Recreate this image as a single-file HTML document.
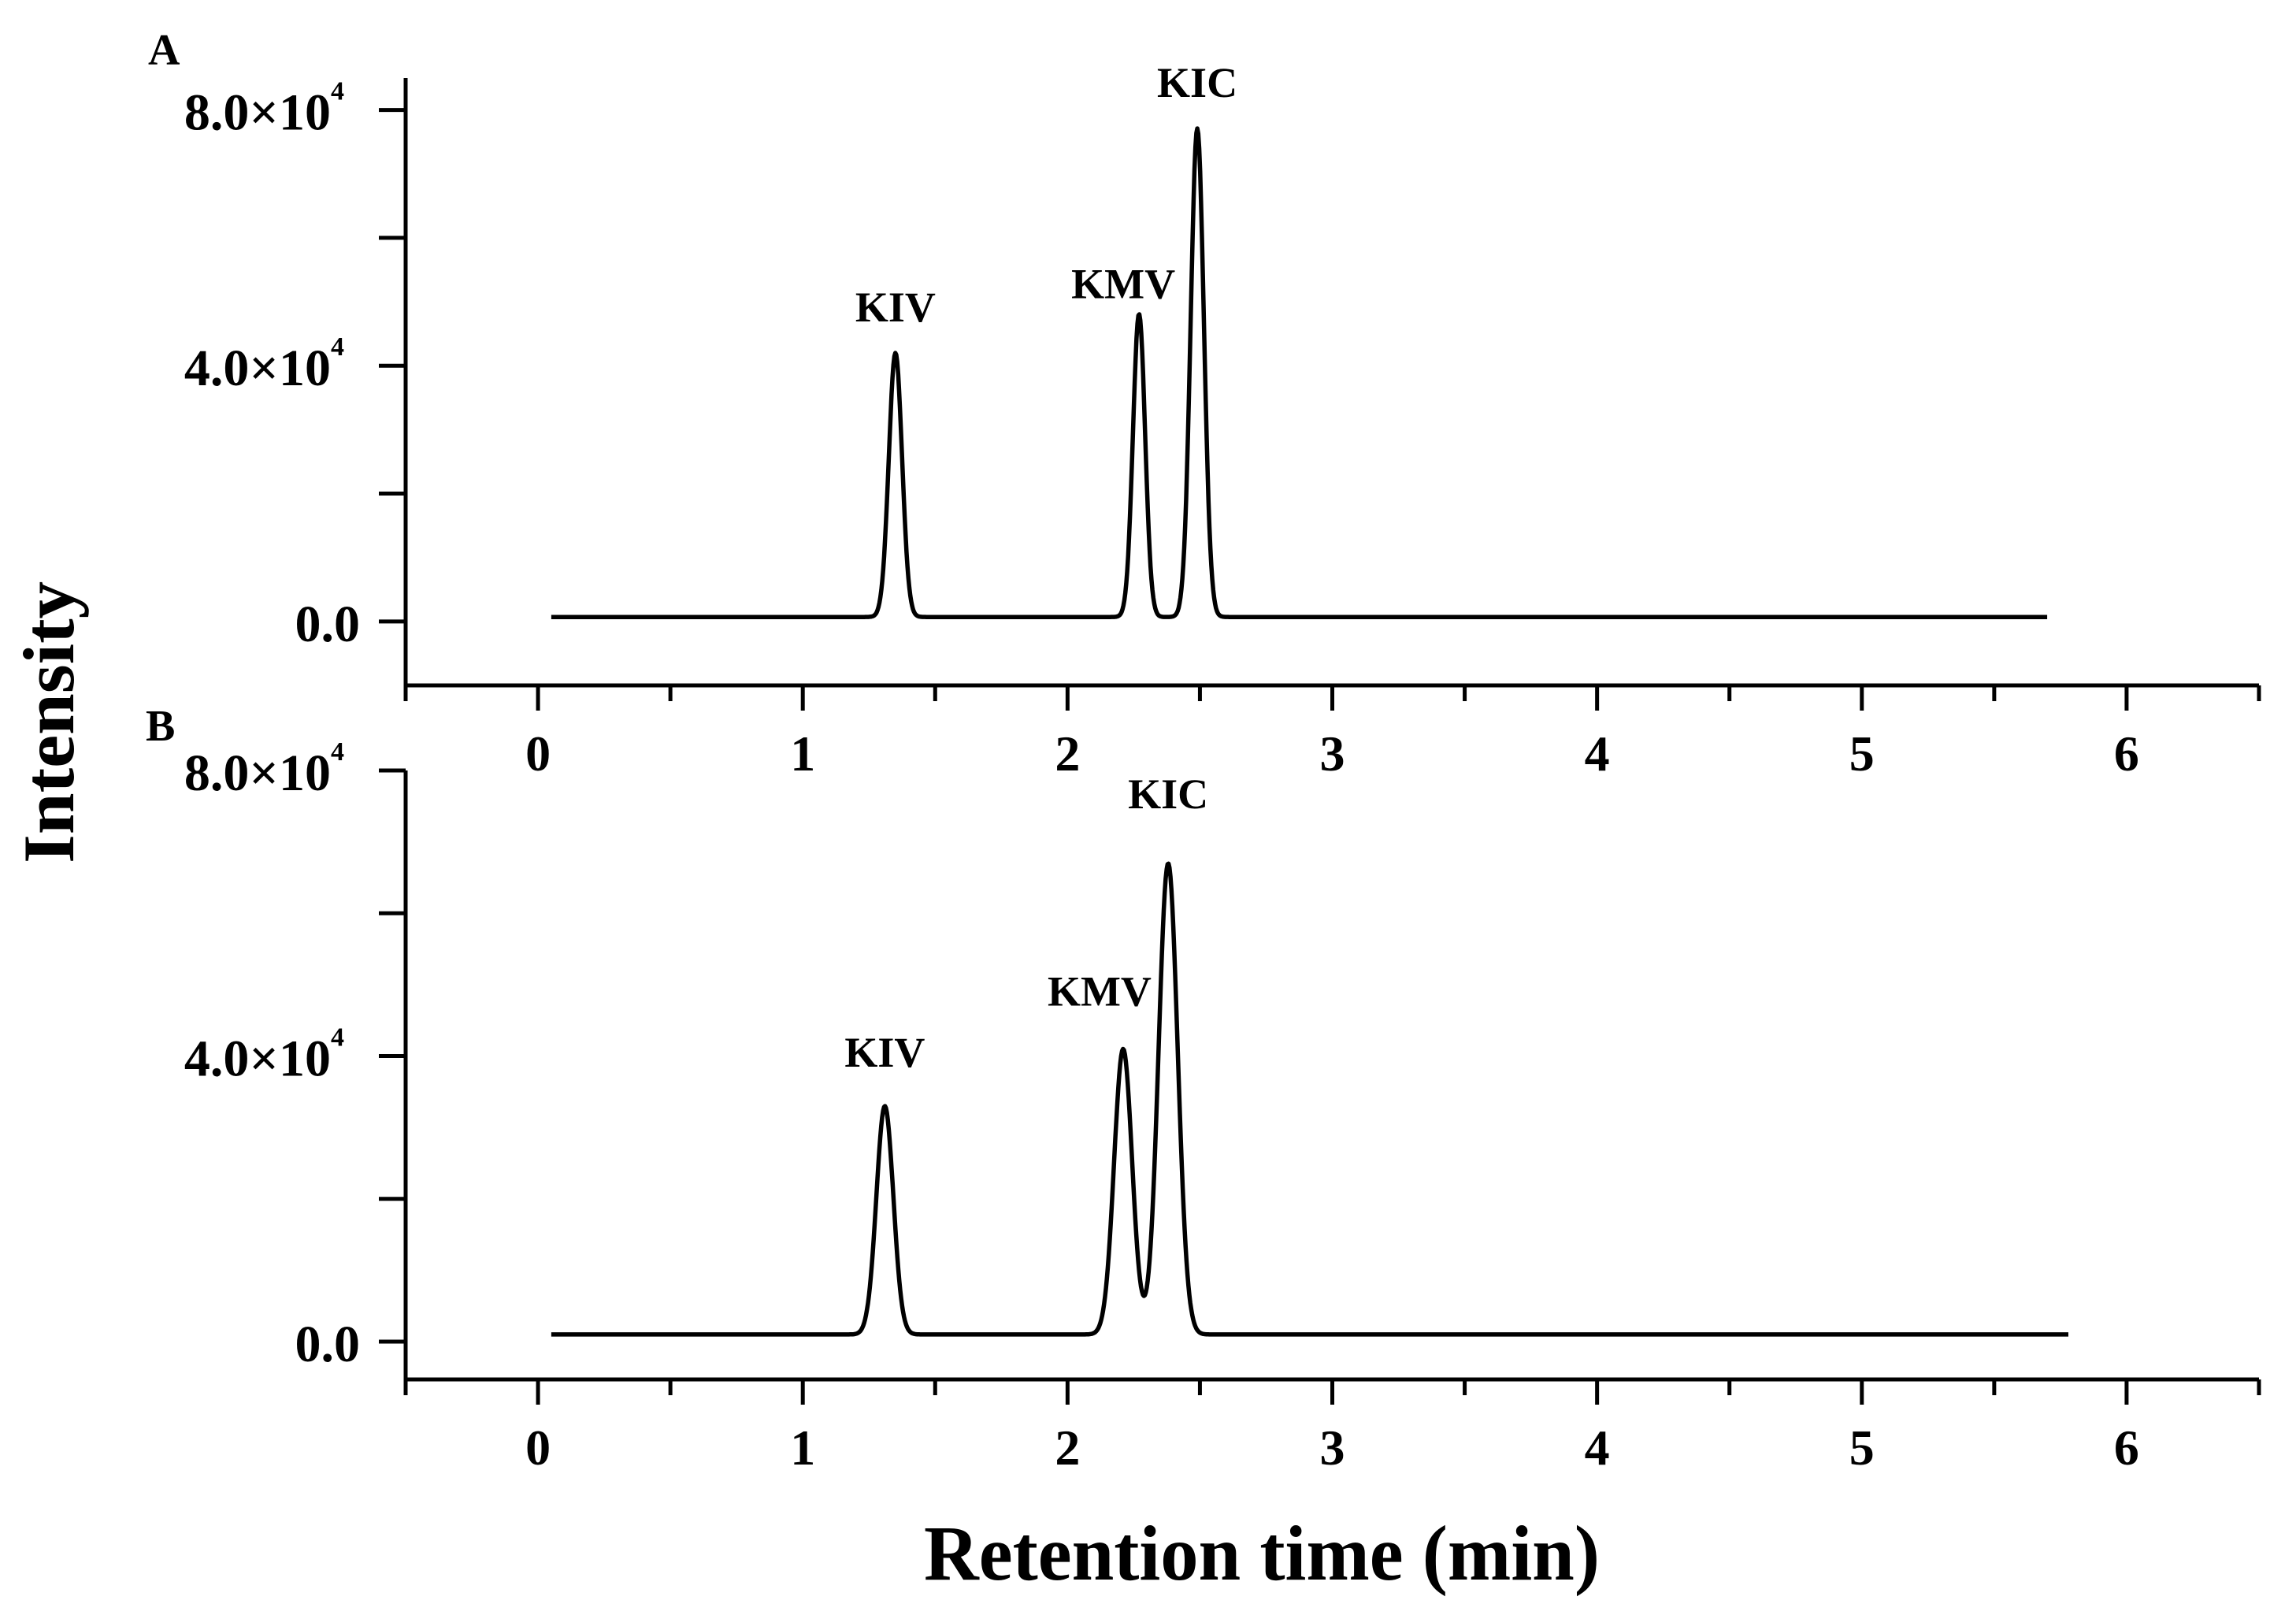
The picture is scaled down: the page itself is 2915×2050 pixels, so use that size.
<!DOCTYPE html>
<html><head><meta charset="utf-8"><style>
html,body{margin:0;padding:0;background:#fff}
svg{display:block}
text{font-family:"Liberation Serif",serif;font-weight:bold;fill:#000}
</style></head><body>
<svg id="chart" width="2915" height="2050" viewBox="0 0 2915 2050" xmlns="http://www.w3.org/2000/svg">
<text x="93" y="917" font-size="92" text-anchor="middle" transform="rotate(-90 93 917)" textLength="358" lengthAdjust="spacingAndGlyphs">Intensity</text>
<text x="1602" y="2005" font-size="100" text-anchor="middle" textLength="858" lengthAdjust="spacingAndGlyphs">Retention time (min)</text>
</svg>
<script>
const xTicks = [0, 1, 2, 3, 4, 5, 6];
const yTickValues = [0, 40000, 80000];
const yTickLabels = ["0.0", "4.0×10", "8.0×10"];
const peakLabels = ["KIV", "KMV", "KIC"];
const peakTimesA = [1.35, 2.27, 2.49];
const peakHeightsA = [41300, 47400, 76400];
const peakWidthsA = [0.025, 0.023, 0.025];
const baselineA = 700;
const runA = [0.05, 5.7];
const peakTimesB = [1.31, 2.21, 2.38];
const peakHeightsB = [32000, 40000, 66000];
const peakWidthsB = [0.032, 0.034, 0.036];
const baselineB = 1000;
const runB = [0.05, 5.78];

const svg = document.getElementById('chart');
const NS = 'http://www.w3.org/2000/svg';
function mk(tag, attrs, parent){const e=document.createElementNS(NS,tag);for(const k in attrs)e.setAttribute(k,attrs[k]);(parent||svg).appendChild(e);return e;}

function panel(cfg){
  const g = mk('g',{});
  
  
  const X = v => cfg.x0 + (v - cfg.xmin) / (cfg.xmax - cfg.xmin) * (cfg.x1 - cfg.x0);
  const Y = v => cfg.y0 - (v - cfg.ymin) / (cfg.ymax - cfg.ymin) * (cfg.y0 - cfg.y1);
  const ax = mk('path',{d:`M${cfg.x0},${cfg.y1} L${cfg.x0},${cfg.y0} L${cfg.x1},${cfg.y0}`,fill:'none',stroke:'#000','stroke-width':5},g);
  
  
  for(let v=cfg.xmin; v<=cfg.xmax+1e-9; v+=0.5){
    const major = Math.abs(v-Math.round(v))<1e-9;
    const t = mk('line',{x1:X(v),x2:X(v),y1:cfg.y0,y2:cfg.y0+(major?32:20),stroke:'#000','stroke-width':5},g);
    
    
  }
  xTicks.forEach(v=>{
    const t = mk('text',{x:X(v),y:cfg.y0+108,'font-size':64,'text-anchor':'middle'},g);
    t.textContent = v;
    
    
  });
  for(let v=0; v<=80000; v+=20000){
    const t = mk('line',{x1:cfg.x0-34,x2:cfg.x0,y1:Y(v),y2:Y(v),stroke:'#000','stroke-width':5},g);
    
    
  }
  yTickValues.forEach((v,i)=>{
    const t = mk('text',{x:cfg.x0-58,y:Y(v)+25,'font-size':66,'text-anchor':'end'},g);
    t.textContent = yTickLabels[i];
    if(v!==0){
      const s = mk('tspan',{dy:-38,'font-size':34},t); s.textContent='4';
      t.setAttribute('x', cfg.x0-78);
    }
    
    
  });
  let d='';
  const n=1600;
  for(let i=0;i<=n;i++){
    const x = cfg.run[0] + (cfg.run[1]-cfg.run[0])*i/n;
    let y = cfg.base;
    cfg.times.forEach((c,k)=>{ y += cfg.heights[k]*Math.exp(-0.5*Math.pow((x-c)/cfg.widths[k],2)); });
    d += (i?'L':'M') + X(x).toFixed(1) + ',' + Y(y).toFixed(1);
  }
  const p = mk('path',{d:d,fill:'none',stroke:'#000','stroke-width':5.5,'stroke-linejoin':'round'},g);
  
  
  peakLabels.forEach((lab,k)=>{
    const t = mk('text',{x:X(cfg.times[k]) + cfg.labelDx[k], y:Y(cfg.heights[k]+cfg.base) - cfg.labelGap[k],'font-size':54,'text-anchor':'middle'},g);
    t.textContent = lab;
    
    
  });
  const pl = mk('text',{x:cfg.letterX,y:cfg.letterY,'font-size':56},g);
  pl.textContent = cfg.id.toUpperCase();
  
  
}

panel({id:'a',x0:515,x1:2868,y0:870,y1:99,xmin:-0.5,xmax:6.5,ymin:-10000,ymax:85000,
  times:peakTimesA,heights:peakHeightsA,widths:peakWidthsA,base:baselineA,run:runA,
  labelDx:[0,-20,0],labelGap:[40,20,40],letterX:188,letterY:82});
panel({id:'b',x0:515,x1:2868,y0:1751,y1:978,xmin:-0.5,xmax:6.5,ymin:-5300,ymax:80000,
  times:peakTimesB,heights:peakHeightsB,widths:peakWidthsB,base:baselineB,run:runB,
  labelDx:[0,-30,0],labelGap:[50,55,70],letterX:185,letterY:940});
</script>
</body></html>
